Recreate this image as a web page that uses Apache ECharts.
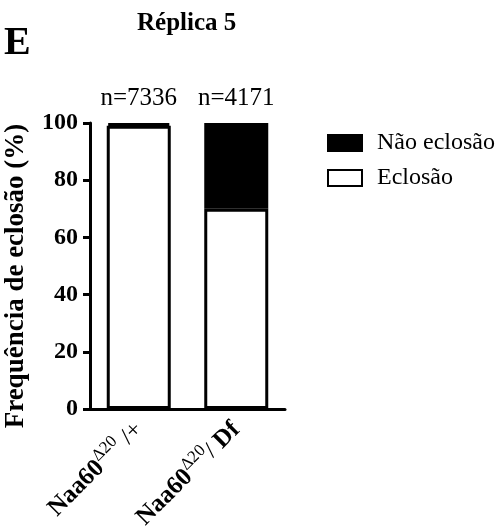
<!DOCTYPE html>
<html>
<head>
<meta charset="utf-8">
<script src="https://cdn.jsdelivr.net/npm/echarts@6/dist/echarts.min.js"></script>
<style>
    html, body { margin: 0; padding: 0; background: #fff; }
    #chart { width: 503px; height: 531px; }
</style>
</head>
<body>
<div id="chart"></div>
<script>
document.addEventListener('DOMContentLoaded', function() {

    const categories = ['{b|Naa60}{sup|Δ20}{n| /+}', '{b|Naa60}{sup|Δ20}{n|/ }{b|Df}'];
    const eclosao = [99, 70];
    const naoEclosao = [1, 30];
    const nLabels = ['n=7336', 'n=4171'];
    const yTicks = [0, 20, 40, 60, 80, 100];

    const serif = 'Liberation Serif';

    const chart = echarts.init(document.getElementById('chart'));

    chart.setOption({
        animation: false,
        title: [{
            text: 'E',
            left: 4,
            top: 24,
            padding: 0,
            textStyle: { fontFamily: serif, fontWeight: 'bold', fontSize: 40, color: '#000' }
        }, {
            text: 'Réplica 5',
            left: 137,
            top: 11,
            padding: 0,
            textStyle: { fontFamily: serif, fontWeight: 'bold', fontSize: 25, color: '#000' }
        }],
        legend: {
            data: ['Não eclosão', 'Eclosão'],
            orient: 'vertical',
            left: 327,
            top: 131,
            padding: 0,
            itemWidth: 34,
            itemHeight: 16,
            itemGap: 11,
            icon: 'rect',
            textStyle: { fontFamily: serif, fontSize: 24, color: '#000', padding: [0, 0, 0, 10] }
        },
        grid: {
            left: 90,
            right: 218,
            top: 123,
            bottom: 122,
            outerBoundsMode: 'none'
        },
        xAxis: {
            type: 'category',
            data: categories,
            axisLine: { lineStyle: { color: '#000', width: 3 } },
            axisTick: { alignWithLabel: true, length: 7, lineStyle: { color: '#000', width: 3 } },
            axisLabel: {
                rotate: 45,
                margin: 17,
                rich: {
                    b: { fontFamily: serif, fontWeight: 'bold', fontSize: 25, color: '#000' },
                    n: { fontFamily: serif, fontSize: 24, color: '#000' },
                    sup: { fontFamily: serif, fontSize: 17, color: '#000', padding: [0, 0, 16, 0] }
                }
            }
        },
        yAxis: {
            type: 'value',
            min: yTicks[0],
            max: yTicks[yTicks.length - 1],
            interval: 20,
            name: 'Frequência de eclosão (%)',
            nameLocation: 'middle',
            nameGap: 60,
            nameTextStyle: {
                fontFamily: serif, fontWeight: 'bold', fontSize: 27, color: '#000',
                padding: [0, 20, 0, 0]
            },
            axisLine: { show: true, lineStyle: { color: '#000', width: 3 } },
            axisTick: { show: true, length: 7, lineStyle: { color: '#000', width: 3 } },
            axisLabel: { fontFamily: serif, fontWeight: 'bold', fontSize: 24, color: '#000', margin: 12 },
            splitLine: { show: false }
        },
        series: [{
            name: 'Eclosão',
            type: 'bar',
            stack: 'total',
            barWidth: 64,
            data: eclosao,
            itemStyle: { color: '#fff', borderColor: '#000', borderWidth: 3 }
        }, {
            name: 'Não eclosão',
            type: 'bar',
            stack: 'total',
            barWidth: 64,
            data: naoEclosao,
            itemStyle: { color: '#000', borderColor: '#000', borderWidth: 3 },
            label: {
                show: true,
                position: 'top',
                distance: 12,
                fontFamily: serif,
                fontSize: 25,
                color: '#000',
                formatter: p => nLabels[p.dataIndex]
            }
        }]
    });

});
</script>
</body>
</html>
